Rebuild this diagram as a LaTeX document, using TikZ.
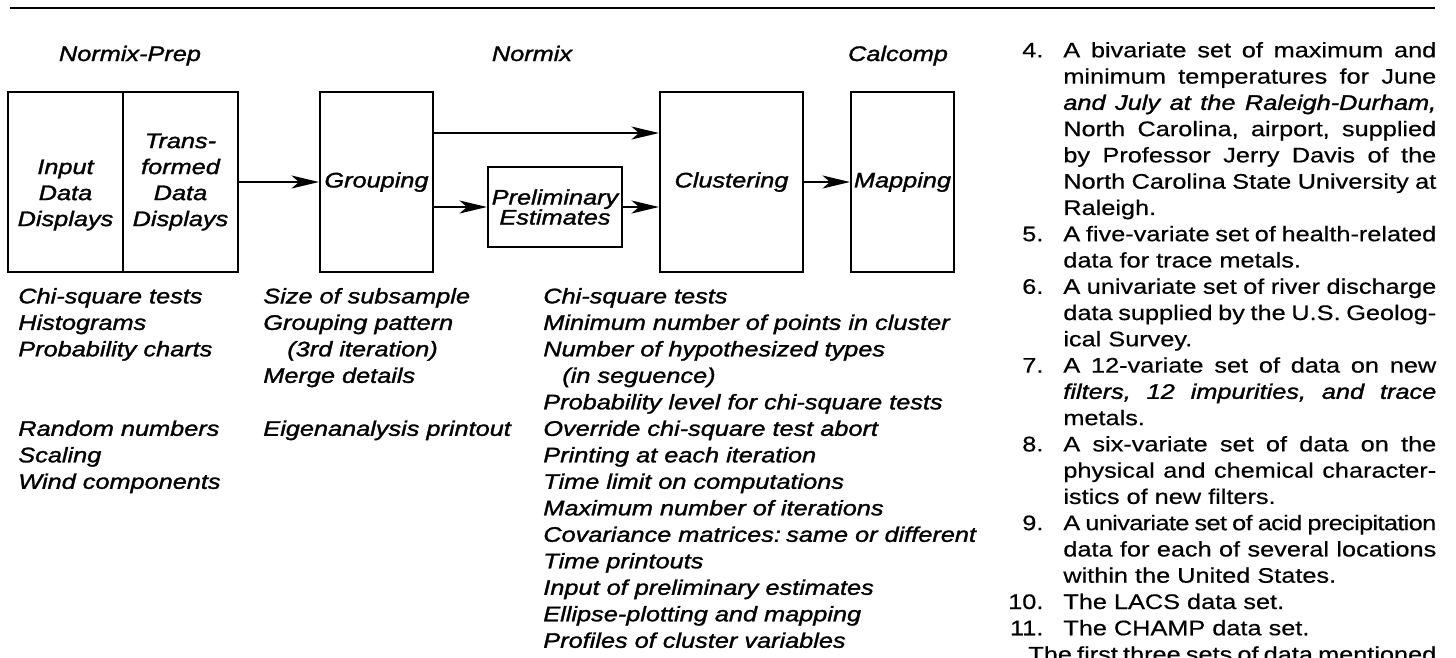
\documentclass[tikz,border=0pt]{standalone}
\usepackage{fontspec}
\setmainfont[FakeStretch=1.2, FakeBold=0.5, ItalicFeatures={FakeBold=1.4}]{Liberation Sans}
\usetikzlibrary{arrows.meta}

% fonts for the chart and the text column
\newcommand{\dgfont}{\fontsize{12}{14.8}\selectfont\itshape}
\newcommand{\colfont}{\fontsize{12}{15}\selectfont\frenchspacing
  \spaceskip=4pt plus 1fil minus 3.5pt}
% one justified line of the column, and the item number
\newlength{\colw}
\setlength{\colw}{7.46cm}
\newcommand{\jl}[1]{\hbox to \colw{#1}}
\newcommand{\dsno}[1]{\llap{#1\hspace{0.4cm}}}

\begin{document}
\begin{tikzpicture}[x=0.02cm, y=-0.02cm,
    box/.style = {draw, line width=1.2pt, minimum height=3.6cm, inner sep=0pt, align=center, font=\dgfont},
    lbl/.style = {inner sep=0pt, font=\dgfont},
    arr/.style = {line width=1.2pt, -{Stealth[length=5.5mm, width=2.6mm, inset=1.5mm]}}]
    \fill[white] (0,0) rectangle (1456,657);
    \useasboundingbox (0,0) rectangle (1456,657);
    \draw[line width=1.6pt] (10,8) -- (1435,8);

    \node[lbl, anchor=base] (hprep) at (130,61) {Normix-Prep};
    \node[lbl, anchor=base] (hnorm) at (532,61) {Normix};
    \node[lbl, anchor=base] (hcal) at (898,61) {Calcomp};

    \node[box, minimum width=2.3cm] (inp) at (65.5,182) {\phantom{Trans-}\\Input\\Data\\Displays};
    \node[box, minimum width=2.3cm] (trn) at (180.5,182) {Trans-\\formed\\Data\\Displays};
    \node[box, minimum width=2.26cm] (grp) at (376.5,182) {Grouping};
    \node[box, minimum width=2.68cm, minimum height=1.6cm] (pre) at (555,207) {Preliminary\\[-0.12cm]Estimates};
    \node[box, minimum width=2.86cm] (clu) at (731.5,182) {Clustering};
    \node[box, minimum width=2.06cm] (map) at (902.5,182) {Mapping};

    \draw[arr] (trn) -- (grp);
    \draw[arr] ([yshift=0.98cm]grp.east) -- ([yshift=0.98cm]clu.west);
    \draw[arr] (grp.east |- pre.west) -- (pre);
    \draw[arr] (pre) -- (pre.east -| clu.west);
    \draw[arr] (clu) -- (map);

    % options under each program
    \node[lbl, anchor=north west] (prepopt) at (18,276.5) {\vbox{\baselineskip=0.53cm
      \hbox{}\hbox{Chi-square tests}\hbox{Histograms}\hbox{Probability charts}
      \hbox{}\hbox{}\hbox{Random numbers}\hbox{Scaling}\hbox{Wind components}}};
    \node[lbl, anchor=north west] (grpopt) at (263,276.5) {\vbox{\baselineskip=0.53cm
      \hbox{}\hbox{Size of subsample}\hbox{Grouping pattern}\hbox{\hspace{0.48cm}(3rd iteration)}
      \hbox{Merge details}\hbox{}\hbox{Eigenanalysis printout}}};
    \node[lbl, anchor=north west] (cluopt) at (543,276.5) {\vbox{\baselineskip=0.53cm
      \hbox{}\hbox{Chi-square tests}\hbox{Minimum number of points in cluster}
      \hbox{Number of hypothesized types}\hbox{\hspace{0.38cm}(in seguence)}
      \hbox{Probability level for chi-square tests}\hbox{Override chi-square test abort}
      \hbox{Printing at each iteration}\hbox{Time limit on computations}
      \hbox{Maximum number of iterations}\hbox{Covariance matrices:\kern-1pt\ same or different}
      \hbox{Time printouts}\hbox{Input of preliminary estimates}
      \hbox{Ellipse-plotting and mapping}\hbox{Profiles of cluster variables}}};

    % text column on the right
    \node[inner sep=0pt, anchor=north west, font=\colfont] (sets) at (1063,30.7) {\vbox{\baselineskip=0.5255cm
      \hbox{}
      \jl{\dsno{4.}A bivariate set of maximum and}
      \jl{minimum temperatures for June}
      \jl{\itshape and July at the Raleigh-Durham,}
      \jl{North Carolina, airport, supplied}
      \jl{by Professor Jerry Davis of the}
      \jl{North Carolina State University at}
      \hbox{Raleigh.}
      \jl{\dsno{5.}A five-variate set of health-related}
      \hbox{data for trace metals.}
      \jl{\dsno{6.}A univariate set of river discharge}
      \jl{data supplied by the U.S. Geolog-}
      \hbox{ical Survey.}
      \jl{\dsno{7.}A 12-variate set of data on new}
      \jl{\itshape filters, 12 impurities, and trace}
      \hbox{metals.}
      \jl{\dsno{8.}A six-variate set of data on the}
      \jl{physical and chemical character-}
      \hbox{istics of new filters.}
      \jl{\dsno{9.}\addfontfeature{LetterSpace=-3}A univariate set of acid precipitation}
      \jl{data for each of several locations}
      \hbox{within the United States.}
      \hbox{\dsno{10.}The LACS data set.}
      \hbox{\dsno{11.}The CHAMP data set.}
      \jl{\hskip-0.7cm The first three sets of data mentioned}}};
\end{tikzpicture}
\end{document}
